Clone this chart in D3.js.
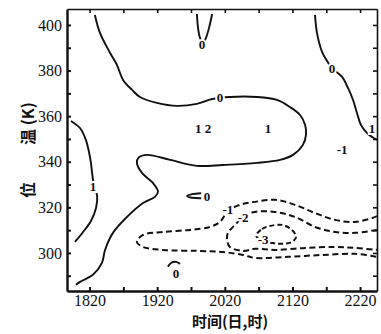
<!DOCTYPE html>
<html>
<head>
<meta charset="utf-8">
<script src="https://cdn.jsdelivr.net/npm/d3@7/dist/d3.min.js"></script>
<style>
  body { margin: 0; background: #fff; }
  svg { display: block; }
</style>
</head>
<body>
<div id="container"></div>
<script>
// time in hours counted from day 18, 00h; theta in K
const xTickHours = [20, 32, 44, 56, 68, 80, 92, 104, 116];
const xLabelHours = [20, 44, 68, 92, 116];
const xTickLabels = ["1820", "1920", "2020", "2120", "2220"];
const yTickValues = [290, 300, 310, 320, 330, 340, 350, 360, 370, 380, 390, 400];
const yLabelValues = [300, 320, 340, 360, 380, 400];

// solid contours
const zeroMain = [
  [21.9, 404.4], [23.7, 396.5], [27.3, 387.7], [29.7, 382.5], [31.9, 375.9], [35.1, 371.5],
  [37.9, 368.4], [43.9, 365.8], [51.0, 364.5], [58.1, 365.4], [63.5, 367.5], [69.8, 368.4],
  [79.4, 368.4], [86.5, 367.1], [91.1, 364.0], [94.7, 360.5], [96.5, 356.1], [96.8, 351.8],
  [95.7, 347.4], [92.2, 343.0], [87.6, 340.8], [79.4, 339.5], [67.4, 338.6], [58.1, 338.2],
  [48.6, 340.8], [40.4, 343.0], [37.4, 341.8], [36.8, 339.5], [38.6, 335.1], [42.5, 330.7],
  [44.3, 326.8], [43.2, 324.6], [39.0, 321.9], [33.3, 315.8], [28.3, 308.8], [25.5, 301.3],
  [24.4, 295.6], [21.2, 290.4], [16.6, 287.3], [15.2, 286.0]
];
const oneLeft = [
  [13.4, 357.9], [16.6, 354.8], [18.7, 349.6], [19.8, 344.3], [20.5, 339.5], [20.9, 335.1],
  [21.6, 329.4], [22.7, 325.0], [22.3, 319.7], [20.5, 314.0], [17.7, 309.2], [14.8, 304.8]
];
const zeroTop = [
  [58.1, 404.8], [58.5, 398.7], [59.2, 394.3], [60.3, 392.1], [61.3, 394.3], [62.4, 398.7], [63.5, 404.8]
];
const zeroRight = [
  [100.0, 404.4], [100.7, 396.5], [102.5, 388.2], [104.3, 384.2], [106.0, 381.1], [109.6, 377.2],
  [111.7, 372.4], [113.5, 367.1], [114.9, 361.4], [116.3, 356.1], [118.8, 352.2], [122.0, 349.6]
];
const zeroSmall = [
  [59.6, 326.2], [56.4, 325.8], [54.6, 325.0], [56.4, 324.2], [59.6, 324.0]
];
const zeroHook = [[47.8, 293.9], [48.9, 295.6], [50.7, 296.1], [52.1, 295.2]];

// dashed contours
const minusOne = [
  [122.0, 316.2], [120.6, 315.4], [114.2, 313.6], [107.1, 314.5], [100.0, 317.5], [92.9, 321.1],
  [85.8, 323.3], [78.7, 322.4], [73.4, 321.1], [69.1, 318.4], [66.3, 313.6], [62.7, 311.4],
  [55.6, 310.1], [46.1, 309.2], [39.0, 307.9], [36.8, 304.8], [39.0, 302.6], [46.1, 301.3],
  [58.1, 300.9], [67.4, 300.4], [74.5, 299.1], [78.7, 297.8], [90.4, 298.3], [102.5, 299.1],
  [114.2, 299.6], [122.0, 298.3]
];
const minusTwo = [
  [122.0, 310.1], [114.2, 308.8], [107.1, 309.2], [100.0, 311.4], [92.9, 315.8], [85.8, 318.0],
  [78.7, 318.0], [75.5, 316.7], [73.4, 314.5], [70.9, 311.4], [69.1, 308.8], [68.8, 305.7],
  [69.8, 302.6], [74.5, 300.9], [78.7, 301.8], [85.8, 301.3], [96.5, 302.2], [107.1, 302.6],
  [114.2, 302.2], [122.0, 301.3]
];
const minusThree = [
  [79.1, 307.5], [81.2, 310.5], [84.0, 311.8], [88.3, 312.3], [91.8, 310.1], [93.3, 307.0],
  [91.8, 304.8], [88.3, 304.0], [84.7, 304.4], [81.2, 305.3]
];

// contour labels: [hour, theta, text]
const contourLabels = [
  [66.3, 368.0, "0"], [60.3, 354.8, "1 2"], [83.3, 354.8, "1"], [21.2, 329.0, "1"],
  [59.9, 391.6, "0"], [106.0, 381.1, "0"], [120.2, 354.8, "1"], [109.6, 345.2, "-1"],
  [61.7, 324.6, "0"], [69.1, 318.9, "-1"], [74.5, 315.4, "-2"], [81.6, 305.7, "-3"],
  [50.7, 291.2, "0"]
];

const w = 381, h = 334;
const serif = '"Liberation Serif", "DejaVu Serif", serif';
const svg = d3.select('#container').append('svg')
  .attr('width', w).attr('height', h)
  .style('font-family', serif);

const x = d3.scaleLinear().domain([12, 122]).range([67, 377]);
const y = d3.scaleLinear().domain([283.3, 407]).range([291, 9]);

const fmtX = (d) => {
  const i = xLabelHours.indexOf(d);
  return i >= 0 ? xTickLabels[i] : "";
};

const line = d3.line().x((d) => x(d[0])).y((d) => y(d[1])).curve(d3.curveCatmullRom);
const loop = d3.line().x((d) => x(d[0])).y((d) => y(d[1])).curve(d3.curveCatmullRomClosed);

const solids = [zeroMain, oneLeft, zeroTop, zeroRight, zeroHook, zeroSmall];
const dashed = [minusOne, minusTwo];

svg.selectAll('.solid').data(solids)
  .enter().append('path')
  .attr('class', 'solid')
  .attr('d', line)
  .attr('fill', 'none')
  .attr('stroke', '#111')
  .attr('stroke-width', 1.9);

svg.selectAll('.dash').data(dashed)
  .enter().append('path')
  .attr('class', 'dash')
  .attr('d', line)
  .attr('fill', 'none')
  .attr('stroke', '#111')
  .attr('stroke-width', 2)
  .attr('stroke-dasharray', '6,3.5');

svg.append('path').datum(minusThree)
  .attr('d', loop)
  .attr('fill', 'none')
  .attr('stroke', '#111')
  .attr('stroke-width', 2)
  .attr('stroke-dasharray', '5,3');

// white halo first, then the label itself
['halo', 'clabel'].forEach((cls) => {
  svg.selectAll('.' + cls).data(contourLabels)
    .enter().append('text')
    .attr('class', cls)
    .attr('x', (d) => x(d[0]))
    .attr('y', (d) => y(d[1]))
    .attr('dy', '0.35em')
    .attr('text-anchor', 'middle')
    .attr('font-family', serif)
    .attr('font-size', 13)
    .attr('font-weight', 'bold')
    .attr('stroke', cls === 'halo' ? '#fff' : 'none')
    .attr('stroke-width', cls === 'halo' ? 4 : 0)
    .attr('fill', cls === 'halo' ? '#fff' : '#111')
    .text((d) => d[2]);
});

// axes, ticks point inward
const axisB = svg.append('g')
  .attr('transform', 'translate(0,' + y.range()[0] + ')')
  .call(d3.axisBottom(x).tickValues(xTickHours).tickSize(-4).tickSizeOuter(0).tickPadding(4).tickFormat(fmtX));
const axisT = svg.append('g')
  .attr('transform', 'translate(0,' + y.range()[1] + ')')
  .call(d3.axisTop(x).tickValues(xTickHours).tickSize(-4).tickSizeOuter(0).tickFormat(''));
const axisL = svg.append('g')
  .attr('transform', 'translate(' + x.range()[0] + ',0)')
  .call(d3.axisLeft(y).tickValues(yTickValues).tickSize(-4).tickSizeOuter(0).tickPadding(5)
    .tickFormat((d) => yLabelValues.includes(d) ? d : ''));
const axisR = svg.append('g')
  .attr('transform', 'translate(' + x.range()[1] + ',0)')
  .call(d3.axisRight(y).tickValues(yTickValues).tickSize(-4).tickSizeOuter(0).tickFormat(''));

[axisB, axisL, axisT, axisR].forEach((g) => g.attr('font-family', serif).attr('font-size', 16));
[axisB, axisL].forEach((g) => {
  g.select('.domain').attr('stroke', '#111').attr('stroke-width', 2.4);
  g.selectAll('.tick line').attr('stroke', '#111').attr('stroke-width', 2);
});
[axisT, axisR].forEach((g) => {
  g.select('.domain').attr('stroke', '#111').attr('stroke-width', 1.6);
  g.selectAll('.tick line').attr('stroke', '#111').attr('stroke-width', 1.6);
});
svg.selectAll('.tick text').attr('fill', '#111');

svg.append('text')
  .attr('x', 230).attr('y', 327)
  .attr('text-anchor', 'middle')
  .style('font-family', '"Noto Sans CJK SC", sans-serif')
  .style('font-size', '15px')
  .style('font-weight', 'bold')
  .attr('fill', '#111')
  .text('时间(日,时)');

svg.append('text')
  .attr('transform', 'translate(34,190) rotate(-90)')
  .attr('text-anchor', 'middle')
  .style('font-family', '"Noto Sans CJK SC", sans-serif')
  .style('font-size', '16px')
  .style('font-weight', 'bold')
  .attr('fill', '#111')
  .text('位');
svg.append('text')
  .attr('transform', 'translate(34,145) rotate(-90)')
  .attr('text-anchor', 'start')
  .style('font-family', '"Noto Sans CJK SC", sans-serif')
  .style('font-size', '16px')
  .style('font-weight', 'bold')
  .attr('fill', '#111')
  .text('温 (K)');
</script>
</body>
</html>
